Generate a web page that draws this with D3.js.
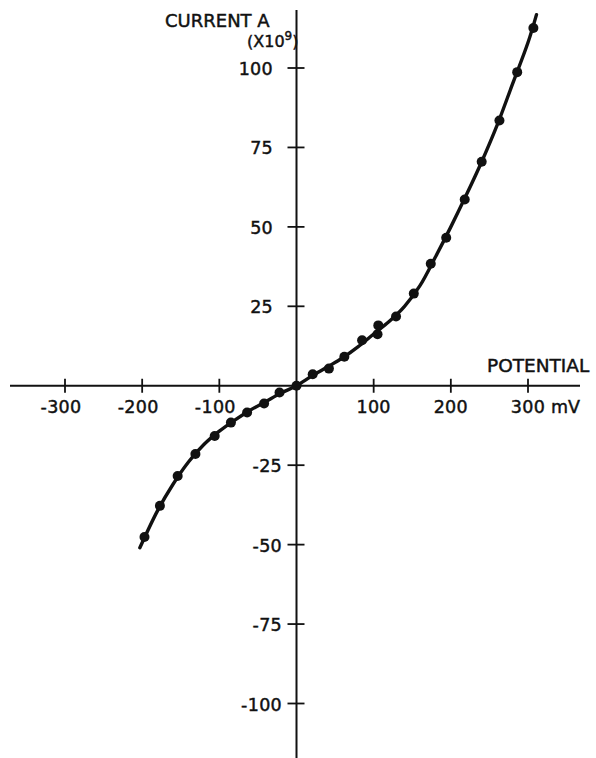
<!DOCTYPE html>
<html>
<head>
<meta charset="utf-8">
<script src="https://cdn.jsdelivr.net/npm/d3@7"></script>
<style>
  html, body { margin: 0; padding: 0; background: #fff; }
  svg { display: block; }
  text { font-family: "DejaVu Sans", sans-serif; fill: #111; stroke: #111; stroke-width: 0.45px; }
</style>
</head>
<body>
<svg id="chart" width="596" height="758"></svg>
<script>
// ---- data ----
const potential = [-197, -177, -154, -131, -106, -85, -64, -42, -22, 0, 21, 42, 62, 85, 105, 106, 129, 152, 174, 194, 218, 240, 263, 286, 307];
const current   = [-47.6, -37.8, -28.4, -21.5, -15.8, -11.6, -8.4, -5.6, -2.1, 0, 3.6, 5.4, 9.1, 14.3, 16.2, 19.0, 21.8, 29.0, 38.4, 46.6, 58.6, 70.5, 83.5, 98.7, 112.6];

// smooth fitted curve drawn through the points
const fitPotential = [-203, -180, -160, -140, -120, -100, -80, -60, -40, -20, 0, 20, 40, 60, 80, 100, 120, 140, 160, 180, 200, 220, 240, 260, 280, 300, 311];
const fitCurrent   = [-51.0, -39.3, -31, -24, -18.5, -14.3, -10.8, -7.7, -5, -2.3, 0, 3.1, 5.9, 8.8, 12.3, 16.3, 20.2, 25, 31.5, 40.5, 50, 60, 70.5, 82, 95, 108, 116.8];

const xTicks = [-300, -200, -100, 100, 200, 300];
const yTicks = [100, 75, 50, 25, -25, -50, -75, -100];

// ---- layout ----
const svg = d3.select("#chart");
const x = d3.scaleLinear().domain([-300, 300]).range([65, 528]);
const y = d3.scaleLinear().domain([-100, 100]).range([703.5, 68]);
const x0 = x(0), y0 = y(0);

svg.append("rect").attr("width", 596).attr("height", 758).attr("fill", "#fff");

// axes lines
svg.append("line").attr("x1", 10).attr("x2", 580).attr("y1", y0).attr("y2", y0)
  .attr("stroke", "#111").attr("stroke-width", 2);
svg.append("line").attr("x1", x0).attr("x2", x0).attr("y1", 10).attr("y2", 758)
  .attr("stroke", "#111").attr("stroke-width", 2);

// x ticks
const xg = svg.append("g");
xg.selectAll("line").data(xTicks).join("line")
  .attr("x1", d => x(d)).attr("x2", d => x(d))
  .attr("y1", y0 - 7).attr("y2", y0 + 7)
  .attr("stroke", "#111").attr("stroke-width", 1.8);
xg.selectAll("text").data(xTicks).join("text")
  .attr("x", d => x(d) + (d < 0 ? -4 : 0))
  .attr("y", 413)
  .attr("text-anchor", "middle")
  .attr("font-size", 17.5)
  .attr("letter-spacing", 0.3)
  .text(d => d);

// y ticks
const yg = svg.append("g");
yg.selectAll("line").data(yTicks).join("line")
  .attr("x1", x0 - 9).attr("x2", x0 + 8)
  .attr("y1", d => y(d)).attr("y2", d => y(d))
  .attr("stroke", "#111").attr("stroke-width", 1.8);
yg.selectAll("text").data(yTicks).join("text")
  .attr("x", d => d < 0 ? 282 : 273)
  .attr("y", d => y(d) + 7)
  .attr("text-anchor", "end")
  .attr("font-size", 17.5)
  .attr("letter-spacing", 0.3)
  .text(d => d);

// axis titles
svg.append("text").attr("x", 165).attr("y", 27).attr("font-size", 18).text("CURRENT A");
const t2 = svg.append("text").attr("x", 247).attr("y", 47).attr("font-size", 16);
t2.append("tspan").text("(X10");
t2.append("tspan").attr("dy", -7).attr("font-size", 12).text("9");
t2.append("tspan").attr("dy", 7).text(")");
svg.append("text").attr("x", 487).attr("y", 372).attr("font-size", 18.5).text("POTENTIAL");
svg.append("text").attr("x", 551).attr("y", 413).attr("font-size", 17.5).text("mV");

// curve
const fit = fitPotential.map((p, i) => [p, fitCurrent[i]]);
svg.append("path")
  .datum(fit)
  .attr("fill", "none")
  .attr("stroke", "#111")
  .attr("stroke-width", 3.4)
  .attr("stroke-linecap", "round")
  .attr("d", d3.line().x(d => x(d[0])).y(d => y(d[1])).curve(d3.curveCatmullRom.alpha(0.5)));

// points
const pts = potential.map((p, i) => [p, current[i]]);
svg.append("g").selectAll("circle").data(pts).join("circle")
  .attr("cx", d => x(d[0])).attr("cy", d => y(d[1]))
  .attr("r", 5).attr("fill", "#111");
</script>
</body>
</html>
